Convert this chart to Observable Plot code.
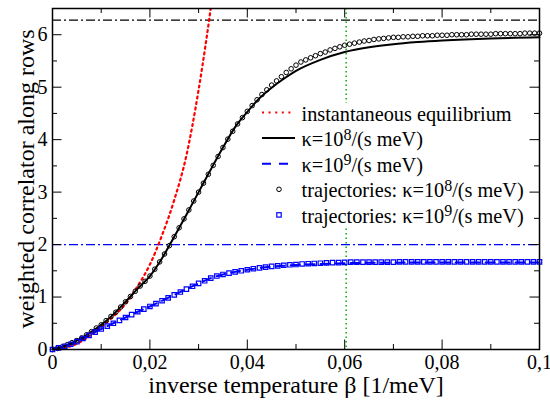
<!DOCTYPE html>
<html><head><meta charset="utf-8">
<script src="https://cdn.jsdelivr.net/npm/d3@7"></script>
<script src="https://cdn.jsdelivr.net/npm/@observablehq/plot@0.6"></script>
<style>html,body{margin:0;padding:0;background:#fff} svg{display:block}
#chart svg, #chart svg text {font-family: "Liberation Serif", "Times New Roman", serif !important;}</style>
</head><body><div id="chart"></div>
<script>
// ---- data ----
const redX = [0,0.0025,0.005,0.0075,0.01,0.0125,0.015,0.0175,0.02,0.0225,0.025,0.0275,0.03,0.0315,0.033];
const redY = [0,0.03,0.11,0.25,0.43,0.63,0.87,1.21,1.62,2.18,2.85,3.70,4.95,5.85,6.85];

const k8X = [0,0.0025,0.005,0.0075,0.01,0.0125,0.015,0.0175,0.02,0.0225,0.025,0.0275,0.03,0.0325,0.035,0.0375,0.04,0.0425,0.045,0.0475,0.05,0.055,0.06,0.065,0.07,0.075,0.08,0.09,0.1];
const k8Y = [0,0.07,0.17,0.31,0.47,0.67,0.91,1.16,1.40,1.74,2.15,2.57,3.00,3.43,3.85,4.24,4.53,4.79,4.99,5.16,5.31,5.52,5.67,5.76,5.82,5.86,5.89,5.93,5.95];

const k9X = [0,0.0025,0.005,0.0075,0.01,0.0125,0.015,0.0175,0.02,0.0225,0.025,0.0275,0.03,0.0325,0.035,0.0375,0.04,0.045,0.05,0.055,0.06,0.07,0.08,0.09,0.1];
const k9Y = [0,0.06,0.15,0.27,0.39,0.50,0.61,0.72,0.82,0.93,1.04,1.15,1.26,1.36,1.43,1.48,1.52,1.58,1.61,1.63,1.645,1.655,1.66,1.66,1.66];

const circX = [0,0.001,0.002,0.003,0.004,0.005,0.006,0.007,0.008,0.009,
0.010,0.011,0.012,0.013,0.014,0.015,0.016,0.017,0.018,0.019,
0.020,0.021,0.022,0.023,0.024,0.025,0.026,0.027,0.028,0.029,
0.030,0.031,0.032,0.033,0.034,0.035,0.036,0.037,0.038,0.039,
0.040,0.041,0.042,0.043,0.044,0.045,0.046,0.047,0.048,0.049,
0.050,0.051,0.052,0.053,0.054,0.055,0.056,0.057,0.058,0.059,
0.060,0.061,0.062,0.063,0.064,0.065,0.066,0.067,0.068,0.069,
0.070,0.071,0.072,0.073,0.074,0.075,0.076,0.077,0.078,0.079,
0.080,0.081,0.082,0.083,0.084,0.085,0.086,0.087,0.088,0.089,
0.090,0.091,0.092,0.093,0.094,0.095,0.096,0.097,0.098,0.099,
0.100];
const circY = [0,0.02,0.05,0.09,0.13,0.17,0.22,0.28,0.34,0.41,
0.47,0.55,0.63,0.71,0.81,0.91,1.01,1.11,1.21,1.30,
1.40,1.53,1.67,1.82,1.98,2.15,2.32,2.49,2.66,2.83,
3.00,3.17,3.34,3.51,3.68,3.85,4.01,4.16,4.30,4.42,
4.54,4.65,4.76,4.86,4.95,5.04,5.12,5.20,5.28,5.35,
5.42,5.48,5.52,5.56,5.60,5.64,5.67,5.71,5.74,5.77,
5.80,5.82,5.84,5.86,5.88,5.89,5.91,5.92,5.93,5.94,
5.95,5.95,5.96,5.96,5.97,5.97,5.98,5.98,5.98,5.99,
5.99,5.99,6.00,6.00,6.00,6.00,6.01,6.01,6.01,6.01,
6.01,6.02,6.02,6.02,6.02,6.02,6.02,6.03,6.03,6.03,
6.03];

const sqX = [0,0.00125,0.0025,0.00375,0.005,0.00625,0.0075,0.00875,
0.01,0.01125,0.0125,0.01375,0.015,0.01625,0.0175,0.01875,
0.02,0.02125,0.0225,0.02375,0.025,0.02625,0.0275,0.02875,
0.03,0.03125,0.0325,0.03375,0.035,0.03625,0.0375,0.03875,
0.04,0.04125,0.0425,0.04375,0.045,0.04625,0.0475,0.04875,
0.05,0.05125,0.0525,0.05375,0.055,0.05625,0.0575,0.05875,
0.06,0.06125,0.0625,0.06375,0.065,0.06625,0.0675,0.06875,
0.07,0.07125,0.0725,0.07375,0.075,0.07625,0.0775,0.07875,
0.08,0.08125,0.0825,0.08375,0.085,0.08625,0.0875,0.08875,
0.09,0.09125,0.0925,0.09375,0.095,0.09625,0.0975,0.09875,
0.1];
const sqY = [0,0.03,0.06,0.10,0.15,0.21,0.27,0.33,0.39,0.445,
0.50,0.555,0.61,0.665,0.72,0.77,0.82,0.875,0.93,0.985,
1.04,1.095,1.15,1.205,1.26,1.31,1.36,1.40,1.43,1.455,
1.48,1.50,1.52,1.54,1.555,1.57,1.585,1.595,1.605,1.615,
1.62,1.63,1.635,1.64,1.645,1.65,1.655,1.655,1.66,1.665,
1.665,1.665,1.665,1.665,1.665,1.665,1.665,1.67,1.67,1.67,
1.67,1.67,1.67,1.67,1.67,1.67,1.67,1.67,1.67,1.67,
1.67,1.67,1.67,1.67,1.67,1.67,1.67,1.67,1.67,1.67,
1.67];

const asymK8 = [6.28];   // dash-dot limit, black
const asymK9 = [2];      // dash-dot limit, blue
const betaMark = [0.0603]; // green dotted vertical

const xMajor = [0,0.02,0.04,0.06,0.08,0.1];
const xMinor = [0.01,0.03,0.05,0.07,0.09];
const yMajor = [0,1,2,3,4,5,6];
const yMinor = [0.5,1.5,2.5,3.5,4.5,5.5];

const xTitle = "inverse temperature β [1/meV]";
const yTitle = "weighted correlator along rows";
const legendLabels = ["instantaneous equilibrium","κ=10^8/(s meV)","κ=10^9/(s meV)","trajectories: κ=10^8/(s meV)","trajectories: κ=10^9/(s meV)"];

// ---- layout ----
const W = 550, H = 401, mL = 52, mR = 11, mT = 8, mB = 52;
const frameW = W - mL - mR, frameH = H - mT - mB;
const majorLen = 9.5, minorLen = 5;
const fmt = d => d === 0 ? "0" : String(d).replace(".", ",");
const lgTextDx = 249, lgDy0 = 112, lgStep = 25.6;
const BLUE = "#0000ff", RED = "#ff0000", GREEN = "#00b000";
const FONT = "Liberation Serif";

function legendBox() {
  const g = d3.create("svg:g");
  g.append("rect").attr("x", mL + 206).attr("y", mT + lgDy0 - 17)
    .attr("width", 268).attr("height", 4 * lgStep + 22).attr("fill", "white");
  return g.node();
}

function legendSamples() {
  const g = d3.create("svg:g");
  const x0 = mL + 210, x1 = mL + 239, xc = mL + 227;
  const yy = i => mT + lgDy0 + i * lgStep - 7.5;
  g.append("line").attr("x1", x0).attr("x2", x1).attr("y1", yy(0)).attr("y2", yy(0))
    .attr("stroke", RED).attr("stroke-width", 2.2).attr("stroke-dasharray", "2,4.6");
  g.append("line").attr("x1", x0).attr("x2", x1 + 4).attr("y1", yy(1)).attr("y2", yy(1))
    .attr("stroke", "black").attr("stroke-width", 2);
  g.append("line").attr("x1", x0).attr("x2", x1).attr("y1", yy(2)).attr("y2", yy(2))
    .attr("stroke", BLUE).attr("stroke-width", 2).attr("stroke-dasharray", "9,8");
  g.append("circle").attr("cx", xc).attr("cy", yy(3)).attr("r", 2.3)
    .attr("fill", "none").attr("stroke", "black").attr("stroke-width", 1);
  g.append("rect").attr("x", xc - 2.2).attr("y", yy(4) - 2.2).attr("width", 4.4).attr("height", 4.4)
    .attr("fill", "none").attr("stroke", BLUE).attr("stroke-width", 1.2);
  return g.node();
}

const chart = Plot.plot({
  width: W, height: H, marginLeft: mL, marginRight: mR, marginTop: mT, marginBottom: mB,
  x: {domain: [0, 0.1]},
  y: {domain: [0, 6.5]},
  style: {"font-family": FONT, "font-size": "20px", "background": "white", "color": "black", "overflow": "visible"},
  marks: [
    Plot.ruleY(asymK8, {y: d => d, stroke: "black", strokeWidth: 1.3, strokeDasharray: "9,3,2,3"}),
    Plot.ruleY(asymK9, {y: d => d, stroke: BLUE, strokeWidth: 1.3, strokeDasharray: "9,3,2,3"}),
    Plot.ruleX(betaMark, {x: d => d, stroke: GREEN, strokeWidth: 1.5, strokeDasharray: "1.5,3"}),
    Plot.line(redX, {x: redX, y: redY, stroke: RED, strokeWidth: 2.2, strokeDasharray: "2,3.6", curve: "monotone-x", clip: true}),
    Plot.line(k9X, {x: k9X, y: k9Y, stroke: BLUE, strokeWidth: 2, strokeDasharray: "9,6", curve: "monotone-x"}),
    Plot.line(k8X, {x: k8X, y: k8Y, stroke: "black", strokeWidth: 2, curve: "monotone-x"}),
    Plot.dot(circX, {x: circX, y: circY, r: 2.3, stroke: "black", strokeWidth: 1, fill: "none"}),
    Plot.dot(sqX, {x: sqX, y: sqY, r: 2.5, symbol: "square", stroke: BLUE, strokeWidth: 1.2, fill: "none"}),
    legendBox,
    // ticks (inward, all four sides)
    Plot.tickX(xMajor, {x: d => d, insetTop: frameH - majorLen, stroke: "black"}),
    Plot.tickX(xMajor, {x: d => d, insetBottom: frameH - majorLen, stroke: "black"}),
    Plot.tickX(xMinor, {x: d => d, insetTop: frameH - minorLen, stroke: "black"}),
    Plot.tickX(xMinor, {x: d => d, insetBottom: frameH - minorLen, stroke: "black"}),
    Plot.tickY(yMajor, {y: d => d, insetRight: frameW - majorLen, stroke: "black"}),
    Plot.tickY(yMajor, {y: d => d, insetLeft: frameW - majorLen, stroke: "black"}),
    Plot.tickY(yMinor, {y: d => d, insetRight: frameW - minorLen, stroke: "black"}),
    Plot.tickY(yMinor, {y: d => d, insetLeft: frameW - minorLen, stroke: "black"}),
    Plot.frame({stroke: "black", strokeWidth: 1.5}),
    Plot.axisX(xMajor, {tickSize: 0, tickPadding: 5, tickFormat: fmt, label: null, fontSize: 20, fontFamily: FONT}),
    Plot.axisY(yMajor, {tickSize: 0, tickPadding: 5, tickFormat: d => String(d), label: null, fontSize: 20, fontFamily: FONT}),
    Plot.text([xTitle], {text: d => d, frameAnchor: "bottom", textAnchor: "middle", lineAnchor: "bottom", dy: 43, fontSize: 24, fontFamily: FONT}),
    Plot.text([yTitle], {text: d => d, frameAnchor: "left", textAnchor: "middle", lineAnchor: "bottom", rotate: -90, dx: -19, fontSize: 24, fontFamily: FONT}),
    ...legendLabels.map((t, i) => Plot.text([t], {text: d => d, frameAnchor: "top-left", textAnchor: "start", lineAnchor: "bottom", dx: lgTextDx, dy: lgDy0 + i * lgStep, fontSize: 20.3, fontFamily: FONT, className: "lg"})),
    legendSamples
  ]
});

// superscripts in legend labels (a^b)
chart.querySelectorAll("g.lg text").forEach(t => {
  const s = t.textContent;
  if (!s.includes("^")) return;
  const [a, rest] = s.split("^");
  t.textContent = "";
  const ns = "http://www.w3.org/2000/svg";
  const t1 = document.createElementNS(ns, "tspan"); t1.textContent = a;
  const t2 = document.createElementNS(ns, "tspan"); t2.textContent = rest[0];
  t2.setAttribute("dy", "-6.5"); t2.setAttribute("font-size", "16");
  const t3 = document.createElementNS(ns, "tspan"); t3.textContent = rest.slice(1);
  t3.setAttribute("dy", "6.5");
  t.append(t1, t2, t3);
});

document.getElementById("chart").append(chart);
</script>
</body></html>
